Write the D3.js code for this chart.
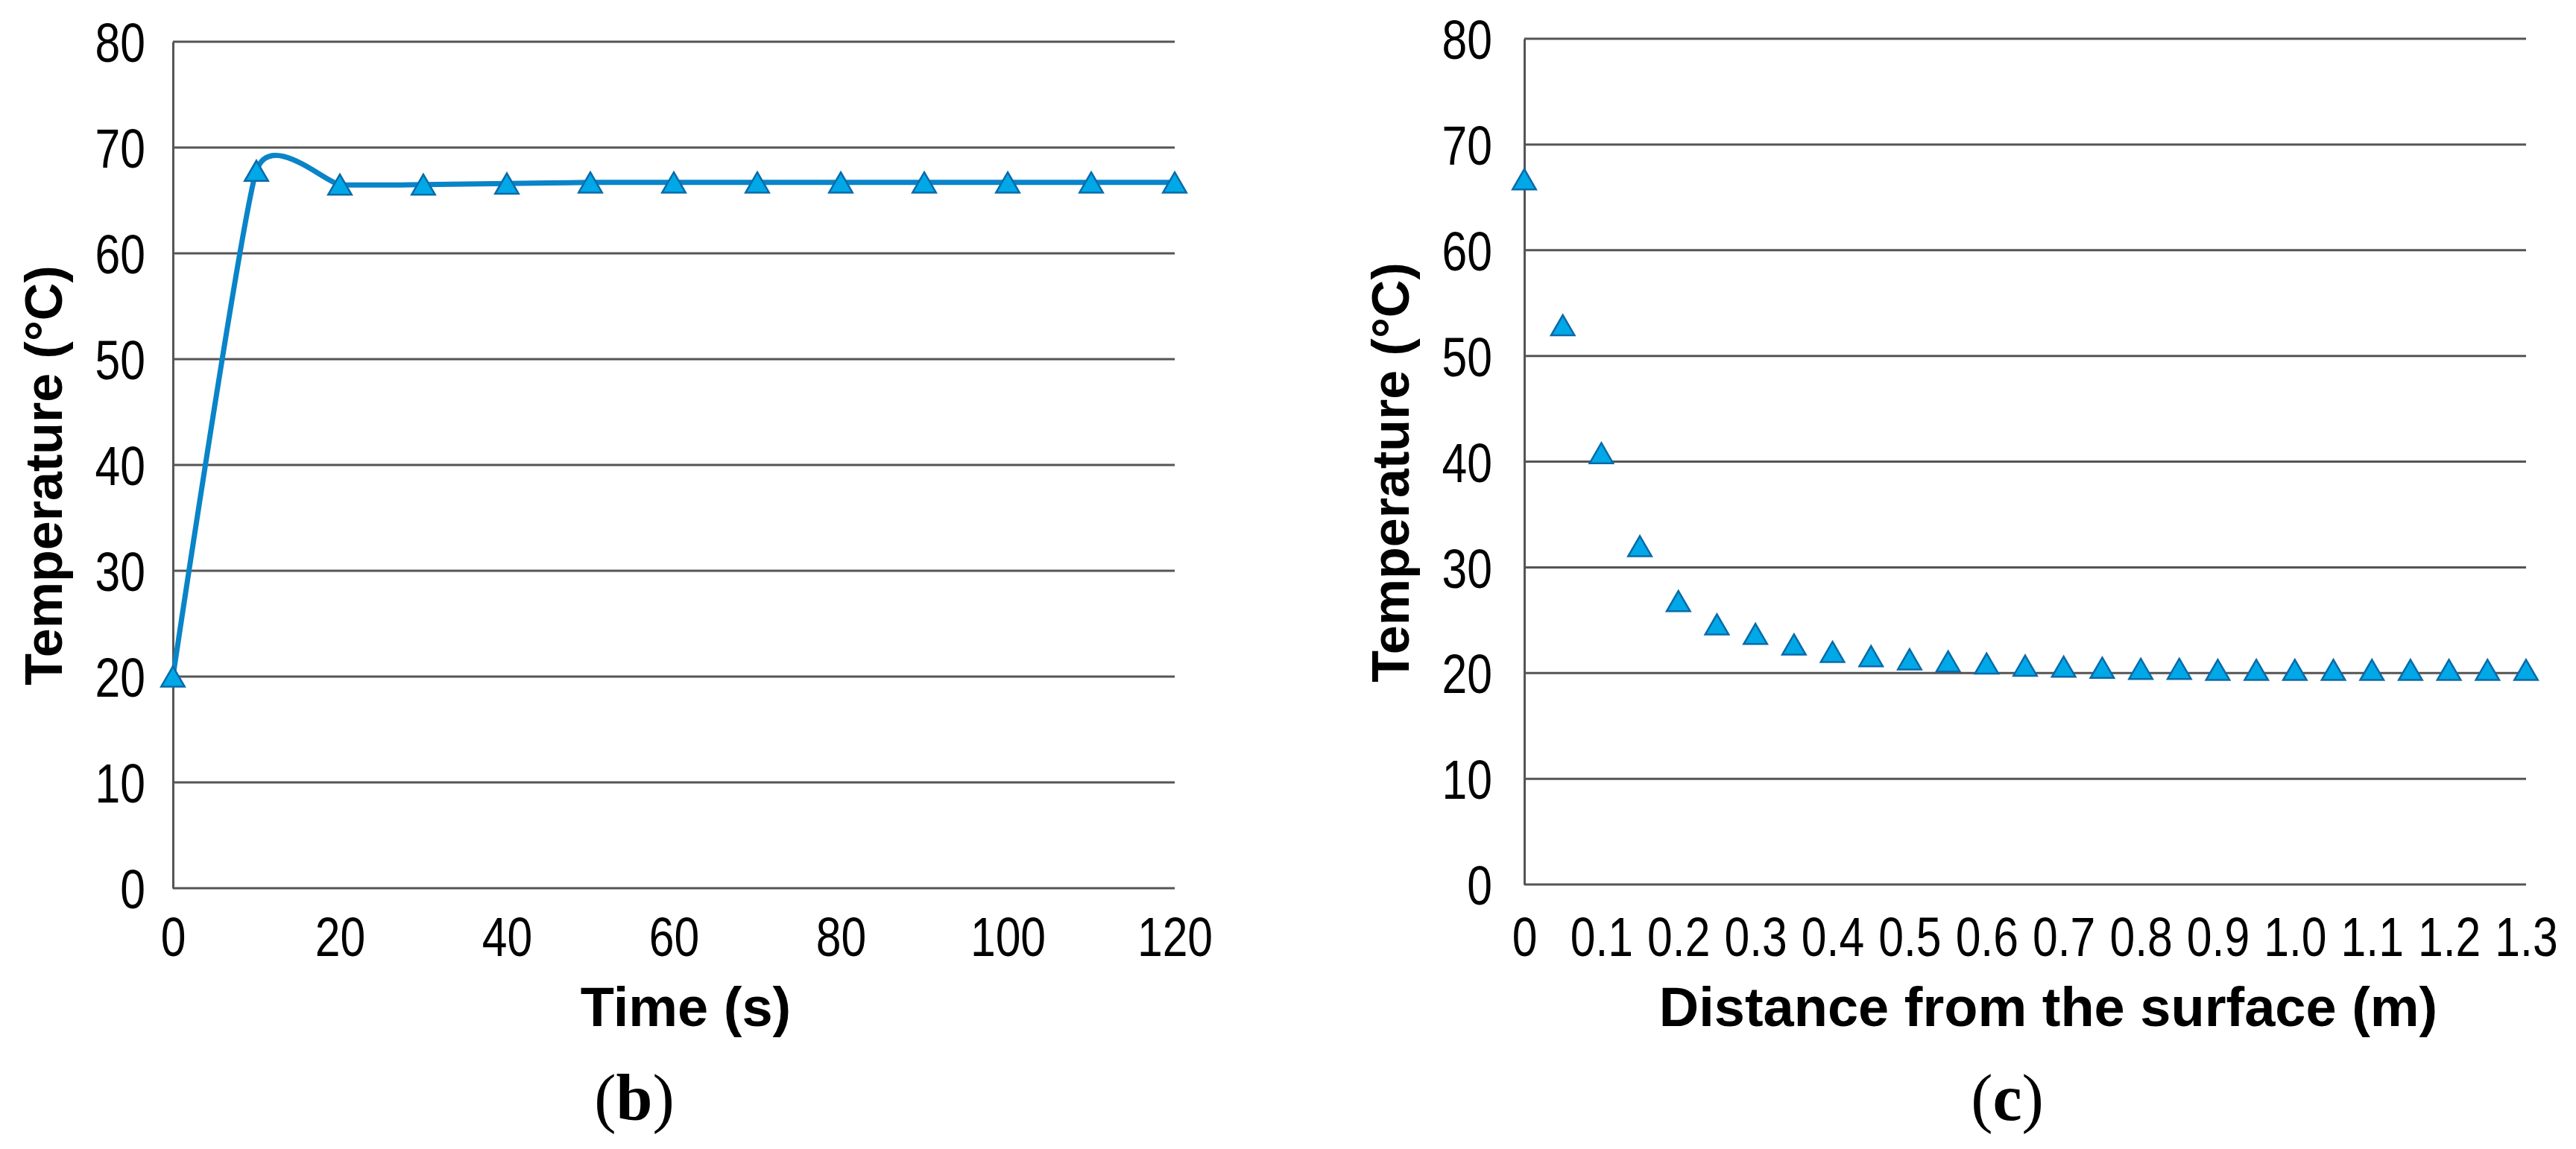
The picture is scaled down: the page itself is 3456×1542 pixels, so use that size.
<!DOCTYPE html>
<html>
<head>
<meta charset="utf-8">
<script src="https://cdn.jsdelivr.net/npm/d3@7"></script>
<style>
  body { margin: 0; background: #fff; }
</style>
</head>
<body>
<div id="chart"></div>
<script>
// panel (b): temperature vs time
const timeValues = [0, 10, 20, 30, 40, 50, 60, 70, 80, 90, 100, 110, 120];
const timeTemps  = [20, 67.8, 66.5, 66.5, 66.6, 66.7, 66.7, 66.7, 66.7, 66.7, 66.7, 66.7, 66.7];
const timeTicks  = [0, 20, 40, 60, 80, 100, 120];

// panel (c): temperature vs distance from the surface
const distValues = [0, 0.05, 0.1, 0.15, 0.2, 0.25, 0.3, 0.35, 0.4, 0.45, 0.5, 0.55, 0.6, 0.65,
                    0.7, 0.75, 0.8, 0.85, 0.9, 0.95, 1.0, 1.05, 1.1, 1.15, 1.2, 1.25, 1.3];
const distTemps  = [66.7, 52.9, 40.8, 32.0, 26.8, 24.6, 23.7, 22.7, 22.0, 21.6, 21.3, 21.1, 20.9, 20.7,
                    20.6, 20.5, 20.4, 20.4, 20.3, 20.3, 20.3, 20.3, 20.3, 20.3, 20.3, 20.3, 20.3];
const distTicks  = [0, 0.1, 0.2, 0.3, 0.4, 0.5, 0.6, 0.7, 0.8, 0.9, 1.0, 1.1, 1.2, 1.3];

const tempTicks = [0, 10, 20, 30, 40, 50, 60, 70, 80];

const W = 3456, H = 1542;
const NARROW = 0.82; // tick labels are a condensed face

const svg = d3.select("#chart").append("svg")
  .attr("width", W).attr("height", H)
  .style("display", "block");

svg.append("rect").attr("width", W).attr("height", H).attr("fill", "#fff");

function drawPanel(p) {
  const x = d3.scaleLinear().domain([p.xTicks[0], p.xTicks[p.xTicks.length - 1]]).range([p.left, p.right]);
  const y = d3.scaleLinear().domain([0, 80]).range([p.bottom, p.top]);
  const g = svg.append("g");

  // horizontal gridlines
  g.append("g").selectAll("line")
    .data(tempTicks)
    .enter().append("line")
    .attr("x1", p.left).attr("x2", p.right)
    .attr("y1", d => y(d)).attr("y2", d => y(d))
    .attr("stroke", "#555").attr("stroke-width", 3);

  // y axis
  const yAxis = g.append("g")
    .attr("transform", `translate(${p.left},0)`)
    .call(d3.axisLeft(y).tickValues(tempTicks).tickSize(0).tickPadding(p.yPad));
  yAxis.select(".domain").attr("stroke", "#555").attr("stroke-width", 3);
  yAxis.selectAll("text")
    .attr("x", -p.yPad / NARROW)
    .attr("dy", "0.36em")
    .attr("transform", `scale(${NARROW},1)`)
    .style("font-family", "'Liberation Sans', Arial, sans-serif")
    .style("font-size", "74px")
    .attr("fill", "#000");

  // x axis (labels only, the 0 gridline is the baseline)
  const xAxis = g.append("g")
    .attr("transform", `translate(0,${p.bottom})`)
    .call(d3.axisBottom(x).tickValues(p.xTicks).tickSize(0).tickFormat(p.xFormat));
  xAxis.select(".domain").remove();
  xAxis.selectAll(".tick text")
    .attr("y", 1283 - p.bottom)
    .attr("dy", 0)
    .attr("transform", `scale(${NARROW},1)`)
    .style("font-family", "'Liberation Sans', Arial, sans-serif")
    .style("font-size", "74px")
    .attr("fill", "#000");

  // axis titles
  g.append("text")
    .attr("transform", `translate(${p.yTitleX},${p.yTitleY}) rotate(-90)`)
    .attr("text-anchor", "middle")
    .style("font-family", "'Liberation Sans', Arial, sans-serif")
    .style("font-size", "70px").style("font-weight", "bold")
    .text("Temperature (°C)");

  g.append("text")
    .attr("x", p.xTitleX).attr("y", 1377)
    .attr("text-anchor", "middle")
    .style("font-family", "'Liberation Sans', Arial, sans-serif")
    .style("font-size", "74px").style("font-weight", "bold")
    .text(p.xTitle);

  // panel label
  const lab = g.append("text")
    .attr("x", p.labelX).attr("y", 1503)
    .attr("text-anchor", "middle")
    .style("font-family", "'Liberation Serif', 'Times New Roman', serif")
    .style("font-size", "88px");
  lab.append("tspan").text("(");
  lab.append("tspan").style("font-weight", "bold").text(p.label);
  lab.append("tspan").text(")");

  const pts = p.xs.map((v, i) => [v, p.ys[i]]);

  if (p.line) {
    g.append("path")
      .datum(pts)
      .attr("fill", "none")
      .attr("stroke", "#0a84c8")
      .attr("stroke-width", 7)
      .attr("d", d3.line().x(d => x(d[0])).y(d => y(d[1])).curve(d3.curveCardinal.tension(0.5)));
  }

  const tri = d3.symbol().type(d3.symbolTriangle).size(430);
  g.append("g").selectAll("path")
    .data(pts)
    .enter().append("path")
    .attr("d", tri)
    .attr("transform", d => `translate(${x(d[0])},${y(d[1]) + 4.5})`)
    .attr("fill", "#00a8e8")
    .attr("stroke", "#0b6aa8")
    .attr("stroke-width", 2.5);
}

drawPanel({
  left: 232, right: 1576, top: 56, bottom: 1192,
  xTicks: timeTicks, xFormat: d3.format("d"),
  xs: timeValues, ys: timeTemps, line: true,
  yPad: 37, yTitleX: 83, yTitleY: 638,
  xTitle: "Time (s)", xTitleX: 920,
  label: "b", labelX: 851
});

drawPanel({
  left: 2045, right: 3389, top: 52, bottom: 1187,
  xTicks: distTicks, xFormat: d => d === 0 ? "0" : d.toFixed(1),
  xs: distValues, ys: distTemps, line: false,
  yPad: 43, yTitleX: 1890, yTitleY: 634,
  xTitle: "Distance from the surface (m)", xTitleX: 2748,
  label: "c", labelX: 2693
});
</script>
</body>
</html>
